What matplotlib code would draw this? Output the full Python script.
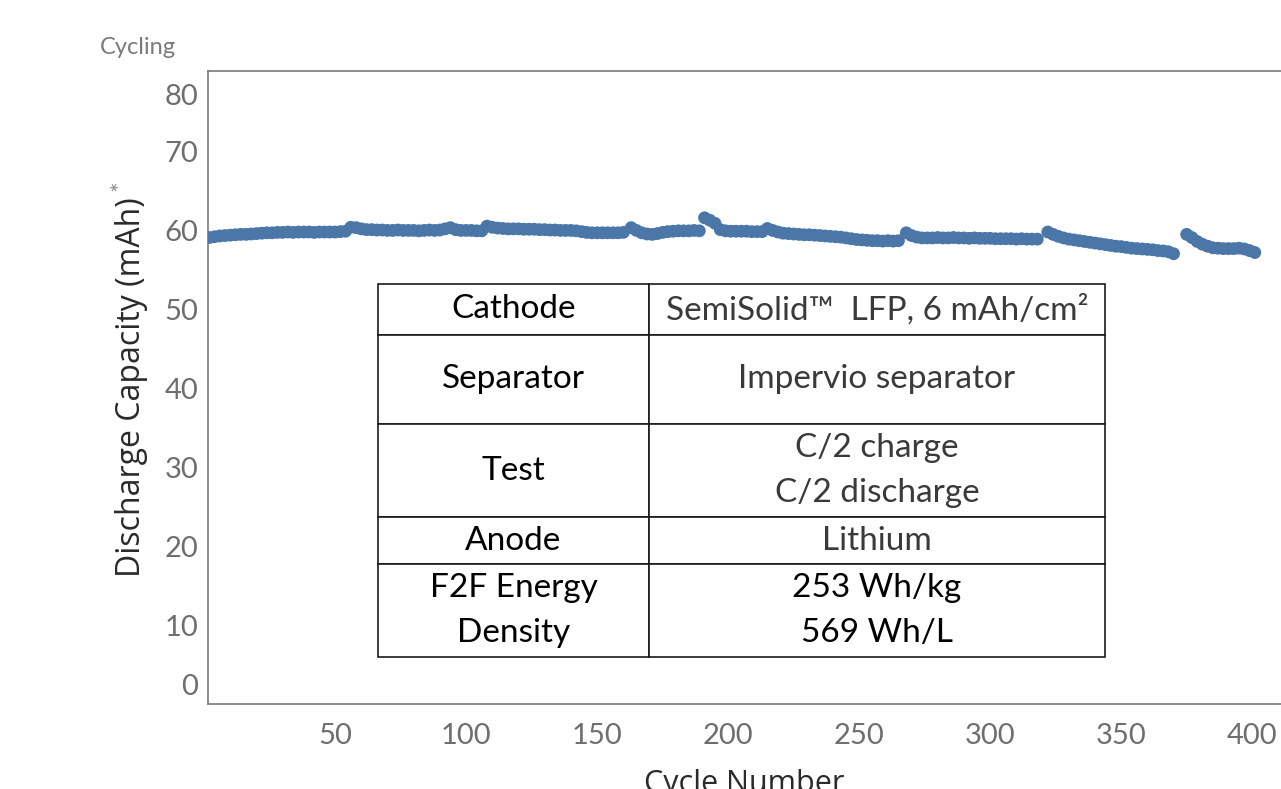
import numpy as np
import matplotlib
matplotlib.use("Agg")
import matplotlib.pyplot as plt

plt.rcParams['font.family'] = ['Lato', 'DejaVu Sans']

# ---- data: discharge capacity (mAh), every other cycle ----
seg1_cycles = list(range(2, 55, 2))
seg1_cap = [59.1, 59.2, 59.3, 59.35, 59.4, 59.45, 59.5, 59.5, 59.55, 59.6, 59.65, 59.7, 59.7, 59.75,
            59.75, 59.8, 59.75, 59.8, 59.8, 59.8, 59.75, 59.8, 59.8, 59.8, 59.8, 59.85, 59.9]

seg2_cycles = list(range(56, 107, 2))
seg2_cap = [60.4, 60.35, 60.2, 60.1, 60.1, 60.05, 60.05, 60.0, 60.0, 60.05, 60.0, 60.0, 60.0,
            59.95, 60.0, 60.05, 60.0, 60.05, 60.2, 60.35, 60.1, 60.0, 60.0, 60.0, 59.95, 59.95]

seg3_cycles = list(range(108, 161, 2))
seg3_cap = [60.55, 60.4, 60.3, 60.25, 60.2, 60.2, 60.2, 60.15, 60.15, 60.15, 60.1, 60.1, 60.05, 60.05,
            60.0, 60.0, 60.0, 59.95, 59.85, 59.75, 59.7, 59.7, 59.7, 59.7, 59.7, 59.7, 59.75]

seg4_cycles = list(range(163, 190, 2))
seg4_cap = [60.35, 60.0, 59.7, 59.55, 59.5, 59.6, 59.75, 59.85, 59.9, 59.95, 59.95, 59.95, 60.0, 59.95]

seg5_cycles = list(range(191, 214, 2))
seg5_cap = [61.6, 61.3, 60.9, 60.1, 59.95, 59.9, 59.9, 59.9, 59.9, 59.85, 59.85, 59.85]

seg6_cycles = list(range(215, 266, 2))
seg6_cap = [60.25, 60.0, 59.8, 59.65, 59.6, 59.55, 59.5, 59.45, 59.45, 59.4, 59.35, 59.3, 59.25,
            59.2, 59.15, 59.05, 58.95, 58.85, 58.8, 58.75, 58.7, 58.7, 58.65, 58.7, 58.65, 58.7]

seg7_cycles = list(range(268, 319, 2))
seg7_cap = [59.7, 59.35, 59.15, 59.05, 59.05, 59.05, 59.1, 59.05, 59.05, 59.1, 59.05, 59.05, 59.0,
            59.05, 59.0, 59.0, 59.0, 58.95, 58.95, 58.95, 58.95, 58.9, 58.95, 58.9, 58.9, 58.9]

seg8_cycles = list(range(322, 371, 2))
seg8_cap = [59.8, 59.5, 59.25, 59.05, 58.9, 58.8, 58.7, 58.6, 58.5, 58.4, 58.3, 58.2, 58.1, 58.0,
            57.95, 57.85, 57.75, 57.7, 57.65, 57.6, 57.55, 57.45, 57.4, 57.3, 57.05]

seg9_cycles = list(range(375, 402, 2))
seg9_cap = [59.5, 59.1, 58.6, 58.25, 58.0, 57.8, 57.75, 57.7, 57.7, 57.7, 57.75, 57.65, 57.45, 57.2]

cycles = (seg1_cycles + seg2_cycles + seg3_cycles + seg4_cycles + seg5_cycles
          + seg6_cycles + seg7_cycles + seg8_cycles + seg9_cycles)
capacity = (seg1_cap + seg2_cap + seg3_cap + seg4_cap + seg5_cap
            + seg6_cap + seg7_cap + seg8_cap + seg9_cap)

x_ticks = [50, 100, 150, 200, 250, 300, 350, 400]
y_tick_pos = [2.5, 10, 20, 30, 40, 50, 60, 70, 77.2]
y_tick_labels = ['0', '10', '20', '30', '40', '50', '60', '70', '80']

# table contents
table_left = ['Cathode', 'Separator', 'Test', 'Anode', 'F2F Energy\nDensity']
table_right = ['SemiSolid\u2122  LFP, 6 mAh/cm\u00b2', 'Impervio separator',
               'C/2 charge\nC/2 discharge', 'Lithium', '253 Wh/kg\n569 Wh/L']
row_heights = [51, 89, 93, 47, 93]

# ---- figure ----
fig = plt.figure(figsize=(12.81, 7.89), dpi=100)
ax = fig.add_axes([208 / 1281, 85 / 789, 1073 / 1281, 633 / 789])

ax.scatter(cycles, capacity, s=85, color='#4a77a8', edgecolors='none', zorder=3)

ax.set_xlim(1.5, 411)
ax.set_ylim(0, 80.2)
ax.set_xticks(x_ticks)
ax.set_xticklabels([str(t) for t in x_ticks])
ax.set_yticks(y_tick_pos)
ax.set_yticklabels(y_tick_labels)
ax.tick_params(axis='both', length=0, labelsize=21, labelcolor='#6e6e6e')
ax.tick_params(axis='x', pad=14)
ax.tick_params(axis='y', pad=7)

for side in ['left', 'top', 'bottom']:
    ax.spines[side].set_color('#7a7a7a')
    ax.spines[side].set_linewidth(1.2)
ax.spines['right'].set_visible(False)

ax.set_ylabel('Discharge Capacity (mAh)', fontsize=23, color='#2a2a2a',
              family=['Open Sans', 'DejaVu Sans'], labelpad=12)
ax.set_xlabel('Cycle Number', fontsize=22, color='#2a2a2a',
              family=['Open Sans', 'DejaVu Sans'], labelpad=14)
fig.text(121 / 1281, 1 - 186 / 789, '*', fontsize=18, color='#8a8a8a',
         ha='center', va='center', rotation=90)
fig.text(100 / 1281, 1 - 47 / 789, 'Cycling', fontsize=17, color='#7a7a7a',
         ha='left', va='center')

# ---- inset table ----
cell_text = [[l, r] for l, r in zip(table_left, table_right)]
tbl = ax.table(cellText=cell_text, cellLoc='center',
               colWidths=[271 / 727, 456 / 727],
               bbox=[(378 - 208) / 1073, (704 - 657) / 633, 727 / 1073, 373 / 633])
tbl.auto_set_font_size(False)
tbl.set_fontsize(24)
for (r, c), cell in tbl.get_celld().items():
    cell.set_height(row_heights[r])
    cell.set_edgecolor('#1a1a1a')
    cell.set_linewidth(1.2)
    cell.set_facecolor('white')
    txt = cell.get_text()
    txt.set_linespacing(1.6)
    if c == 1 and r < 4:
        txt.set_color('#3a3a3a')
    else:
        txt.set_color('#000000')
tbl.set_zorder(4)

fig.savefig('out.png', dpi=100)
